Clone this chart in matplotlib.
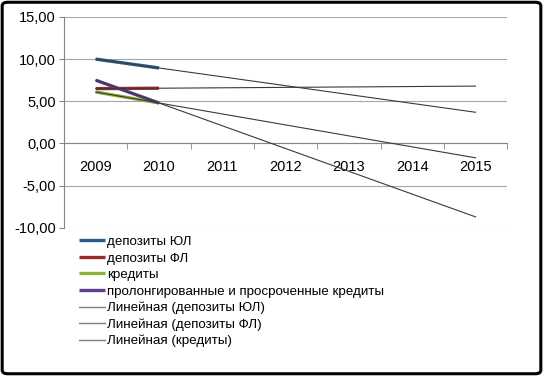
import numpy as np
import matplotlib.pyplot as plt
from matplotlib.patches import FancyBboxPatch

years = ["2009", "2010", "2011", "2012", "2013", "2014", "2015"]
dep_ul = [10.0, 8.95]
dep_fl = [6.5, 6.55]
credits = [6.1, 4.8]
prolong = [7.5, 4.8]

labels = [
    "депозиты ЮЛ",
    "депозиты ФЛ",
    "кредиты",
    "пролонгированные и просроченные кредиты",
]
trend_labels = [
    "Линейная (депозиты ЮЛ)",
    "Линейная (депозиты ФЛ)",
    "Линейная (кредиты)",
]
colors = ["#2B5C8C", "#9B2B2B", "#8DB33B", "#5E3C91"]

plt.rcParams["font.family"] = ["Liberation Sans", "DejaVu Sans"]

fig = plt.figure(figsize=(5.43, 3.76), dpi=100)
ax = fig.add_axes([0.118, 0.394, 0.816, 0.561])

series = [dep_ul, dep_fl, credits, prolong]
x_all = np.arange(len(years))
handles = []
for vals, lab, col in zip(series, labels, colors):
    xs = np.arange(len(vals))
    h, = ax.plot(xs, vals, color=col, lw=2.4, label=lab, zorder=3,
                 solid_capstyle="butt")
    handles.append(h)

# linear trendlines, forecast to 2015
trend_handles = []
for i, vals in enumerate(series):
    k, b = np.polyfit(np.arange(len(vals)), vals, 1)
    h, = ax.plot(x_all, k * x_all + b, color="#3a3a3a", lw=0.8, zorder=4)
    if i < len(trend_labels):
        trend_handles.append(h)

ax.set_xlim(-0.5, 6.5)
ax.set_ylim(-10, 15)
ax.set_yticks([-10, -5, 0, 5, 10, 15])
ax.set_yticklabels(["-10,00", "-5,00", "0,00", "5,00", "10,00", "15,00"], fontsize=10.5)
ax.yaxis.grid(True, color="#a6a6a6", lw=0.8)
ax.set_axisbelow(True)

ax.spines["bottom"].set_position(("data", 0))
ax.spines["bottom"].set_color("#868686")
ax.spines["left"].set_color("#868686")
ax.spines["top"].set_visible(False)
ax.spines["right"].set_visible(False)

ax.set_xticks(x_all)
ax.set_xticklabels(years, fontsize=10.5)
ax.tick_params(axis="x", length=0, pad=12)
ax.set_xticks(np.arange(-0.5, 7, 1), minor=True)
ax.tick_params(axis="x", which="minor", length=4, direction="out", color="#868686")
ax.tick_params(axis="y", length=3.5, color="#868686", pad=2.5)

leg_handles = handles + trend_handles
leg_labels = labels + trend_labels
leg = fig.legend(leg_handles, leg_labels, loc="upper left",
                 bbox_to_anchor=(0.135, 0.387), frameon=False, fontsize=9.6,
                 handlelength=1.95, handletextpad=0.15, labelspacing=0.31,
                 borderaxespad=0)
for lh in leg.get_lines()[4:]:
    lh.set_color("#7f7f7f")
    lh.set_linewidth(1.0)

border = FancyBboxPatch((0.004, 0.006), 0.992, 0.988, boxstyle="round,pad=0,rounding_size=0.01",
                        transform=fig.transFigure, fill=False, ec="black", lw=2.2)
fig.patches.append(border)

plt.savefig("out.png", dpi=100)
plt.close()
